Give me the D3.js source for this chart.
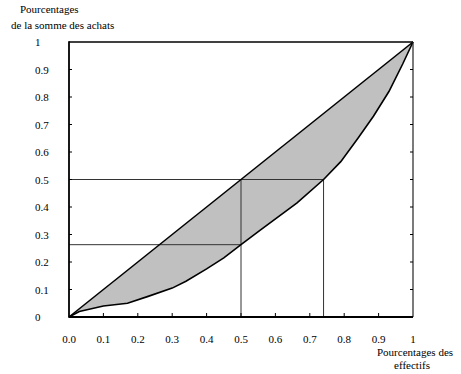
<!DOCTYPE html>
<html><head><meta charset="utf-8">
<script src="https://cdn.jsdelivr.net/npm/d3@7"></script>
<style>body{margin:0;background:#fff}svg{display:block}</style>
</head><body>
<script>
const xTickValues = [0,0.1,0.2,0.3,0.4,0.5,0.6,0.7,0.8,0.9,1];
const xTickLabels = ["0.0","0.1","0.2","0.3","0.4","0.5","0.6","0.7","0.8","0.9","1"];
const yTickValues = [0,0.1,0.2,0.3,0.4,0.5,0.6,0.7,0.8,0.9,1];
const yTickLabels = ["0","0.1","0.2","0.3","0.4","0.5","0.6","0.7","0.8","0.9","1"];
const equalityX = [0,1];
const equalityY = [0,1];
const lorenzX = [0,0.03,0.1,0.17,0.23,0.3,0.34,0.4,0.45,0.5,0.555,0.663,0.74,0.79,0.84,0.885,0.93,0.97,1];
const lorenzY = [0,0.02,0.04,0.05,0.075,0.105,0.13,0.175,0.215,0.263,0.315,0.415,0.5,0.565,0.65,0.73,0.82,0.92,1];
const medianX = [0.5,0.74];
const medianY = [0.263,0.5];
const yTitle = ["Pourcentages","de la somme des achats"];
const xTitle = ["Pourcentages des","effectifs"];

const W=461,H=374;
const svg=d3.select("body").append("svg").attr("width",W).attr("height",H);
const x=d3.scaleLinear().domain([0,1]).range([69,413]);
const y=d3.scaleLinear().domain([0,1]).range([317,42]);
function txt(){ return svg.append("text").style("font-family","'Liberation Serif'").style("font-size","11px").attr("fill","#000"); }

const eq=equalityX.map((v,i)=>[v,equalityY[i]]);
const lz=lorenzX.map((v,i)=>[v,lorenzY[i]]);

const poly=eq.concat(lz.slice().reverse());
svg.append("path").attr("d",d3.line().x(d=>x(d[0])).y(d=>y(d[1]))(poly)+"Z")
  .attr("fill","#c0c0c0").attr("stroke","none");

const g=svg.append("g").attr("stroke","#333").attr("stroke-width",1).attr("fill","none");
g.append("line").attr("x1",x(0)).attr("x2",x(medianX[1])).attr("y1",y(0.5)).attr("y2",y(0.5));
g.append("line").attr("x1",x(0)).attr("x2",x(medianX[0])).attr("y1",y(medianY[0])).attr("y2",y(medianY[0]));
g.append("line").attr("x1",x(medianX[0])).attr("x2",x(medianX[0])).attr("y1",y(0)).attr("y2",y(0.5));
g.append("line").attr("x1",x(medianX[1])).attr("x2",x(medianX[1])).attr("y1",y(0)).attr("y2",y(medianY[1]));

const line=d3.line().x(d=>x(d[0])).y(d=>y(d[1]));
svg.append("path").attr("d",line(eq)).attr("fill","none").attr("stroke","#000").attr("stroke-width",1.6);
svg.append("path").attr("d",line(lz)).attr("fill","none").attr("stroke","#000").attr("stroke-width",1.6);

svg.append("line").attr("x1",x(0)).attr("x2",x(1)).attr("y1",y(1)).attr("y2",y(1)).attr("stroke","#000").attr("stroke-width",1.6);
svg.append("line").attr("x1",x(1)).attr("x2",x(1)).attr("y1",y(0)).attr("y2",y(1)).attr("stroke","#222").attr("stroke-width",1.2);
svg.append("line").attr("x1",x(0)).attr("x2",x(0)).attr("y1",y(0)+0.8).attr("y2",y(1)-0.8).attr("stroke","#000").attr("stroke-width",1.8);
svg.append("line").attr("x1",x(0)).attr("x2",x(1)).attr("y1",y(0)).attr("y2",y(0)).attr("stroke","#000").attr("stroke-width",1.8);

const inner=yTickValues.filter(v=>v>0&&v<1);
svg.selectAll(".lt").data(inner).enter().append("line").attr("x1",x(0)).attr("x2",x(0)+3)
  .attr("y1",d=>y(d)).attr("y2",d=>y(d)).attr("stroke","#000");
svg.selectAll(".rt").data(inner).enter().append("line").attr("x1",x(1)).attr("x2",x(1)-3)
  .attr("y1",d=>y(d)).attr("y2",d=>y(d)).attr("stroke","#000");
svg.selectAll(".bt").data(xTickValues.filter(v=>v>0&&v<1)).enter().append("line").attr("y1",y(0)).attr("y2",y(0)-4)
  .attr("x1",d=>x(d)).attr("x2",d=>x(d)).attr("stroke","#000");

yTickValues.forEach((v,i)=>txt().attr("x",35).attr("y",y(v)+4).text(yTickLabels[i]));
xTickValues.forEach((v,i)=>txt().attr("text-anchor","middle").attr("x",x(v)).attr("y",343).text(xTickLabels[i]));

txt().attr("x",20).attr("y",13).text(yTitle[0]);
txt().attr("x",11).attr("y",29).text(yTitle[1]);
txt().attr("x",377).attr("y",356).text(xTitle[0]);
txt().attr("x",412).attr("y",369).attr("text-anchor","middle").text(xTitle[1]);
</script>
</body></html>
